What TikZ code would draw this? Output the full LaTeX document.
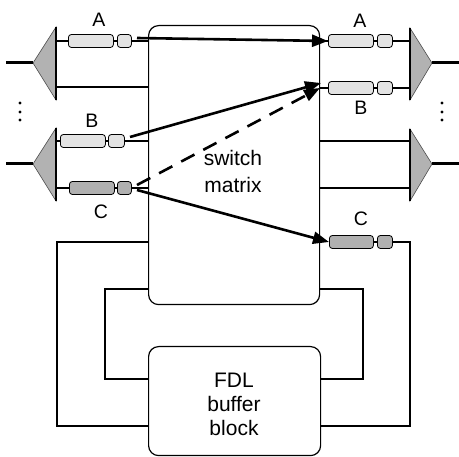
\documentclass[tikz,border=0pt]{standalone}
\usepackage{fontspec}
\setmainfont{Liberation Sans}
\usetikzlibrary{arrows.meta}
\begin{document}
\begin{tikzpicture}[x=1pt,y=-1pt,
  wire/.style={line width=1.2pt},
  bigline/.style={line width=3pt},
  pkt/.style={draw, line width=0.8pt, rounded corners=3pt, minimum height=13pt, inner sep=0pt, anchor=west},
  lightpkt/.style={pkt, fill=gray!22},
  darkpkt/.style={pkt, fill=gray!62},
  demux/.style={fill=gray!60, draw=gray!60!black, line width=0.6pt},
  blockbox/.style={draw, line width=1.2pt, rounded corners=10pt, inner sep=0pt, anchor=north west},
  arr/.style={line width=2.6pt, -{Triangle[length=16pt,width=12pt]}},
  lbl/.style={font=\fontsize{19.5}{22}\selectfont, inner sep=0pt},
  bigtext/.style={font=\fontsize{21}{27}\selectfont, align=center, inner sep=0pt}
]
\useasboundingbox (0,0) rectangle (459,457);

% blocks
\node[blockbox, minimum width=171pt, minimum height=279pt] (sw) at (148,25) {};
\node[blockbox, minimum width=172pt, minimum height=109pt] (fdl) at (148,346) {};
\node[bigtext] (swt) at (233,171) {switch\\matrix};
\node[bigtext, font=\fontsize{21}{24}\selectfont] (fdlt) at (234,404) {FDL\\buffer\\block};

% left demultiplexers
\coordinate (t1a) at (33,63);
\coordinate (t2a) at (33,164);
\coordinate (in1) at (6,63);
\coordinate (in2) at (6,164);
\draw[demux] (56,27) -- (t1a) -- (56,100) -- cycle;
\draw[demux] (56,128) -- (t2a) -- (56,201) -- cycle;
\draw[wire] (56,27) -- (56,100);
\draw[wire] (56,128) -- (56,201);
\draw[bigline] (in1) -- (t1a);
\draw[bigline] (in2) -- (t2a);

% right multiplexers
\coordinate (t3a) at (432,63);
\coordinate (t4a) at (432,164);
\coordinate (out1) at (459,63);
\coordinate (out2) at (459,164);
\draw[demux] (410,28) -- (t3a) -- (410,100) -- cycle;
\draw[demux] (410,129) -- (t4a) -- (410,201) -- cycle;
\draw[wire] (410,28) -- (410,100);
\draw[wire] (410,129) -- (410,201);
\draw[bigline] (t3a) -- (out1);
\draw[bigline] (t4a) -- (out2);

% left packets
\node[lightpkt, minimum width=45pt] (pA1) at (68,41) {};
\node[lightpkt, minimum width=14pt] (pA2) at (117,41) {};
\node[lightpkt, minimum width=45pt] (pB1) at (60,141) {};
\node[lightpkt, minimum width=16pt] (pB2) at (108,141) {};
\node[darkpkt, minimum width=45pt] (pC1) at (69,188) {};
\node[darkpkt, minimum width=14pt] (pC2) at (117,188) {};

% right packets
\node[lightpkt, minimum width=45pt] (qA1) at (328,41) {};
\node[lightpkt, minimum width=15pt] (qA2) at (377,41) {};
\node[lightpkt, minimum width=45pt] (qB1) at (328,88) {};
\node[lightpkt, minimum width=15pt] (qB2) at (377,88) {};
\node[darkpkt, minimum width=44pt] (qC1) at (329,242) {};
\node[darkpkt, minimum width=15pt] (qC2) at (377,242) {};

% left wires
\draw[wire] (56,41) -- (pA1.west);
\draw[wire] (pA1.east) -- (pA2.west);
\draw[wire] (pA2.east) -- (pA2.east -| sw.west);
\draw[wire] (56,87) -- (148,87);
\draw[wire] (56,141) -- (pB1.west);
\draw[wire] (pB1.east) -- (pB2.west);
\draw[wire] (pB2.east) -- (pB2.east -| sw.west);
\draw[wire] (56,188) -- (pC1.west);
\draw[wire] (pC1.east) -- (pC2.west);
\draw[wire] (pC2.east) -- (pC2.east -| sw.west);

% right wires
\draw[wire] (qA1.west -| sw.east) -- (qA1.west);
\draw[wire] (qA1.east) -- (qA2.west);
\draw[wire] (qA2.east) -- (410,41);
\draw[wire] (qB1.west -| sw.east) -- (qB1.west);
\draw[wire] (qB1.east) -- (qB2.west);
\draw[wire] (qB2.east) -- (410,88);
\draw[wire] (sw.east |- 0,141) -- (410,141);
\draw[wire] (sw.east |- 0,188) -- (410,188);
\draw[wire] (qC1.east) -- (qC2.west);

% feedback loops
\draw[wire] (qC2.east) -- (410,242) |- (fdl.east |- 0,426);
\draw[wire] (sw.west |- 0,242) -| (57,426) -- (fdl.west |- 0,426);
\draw[wire] (sw.west |- 0,289) -| (105,379) -- (fdl.west |- 0,379);
\draw[wire] (sw.east |- 0,289) -| (363,379) -- (fdl.east |- 0,379);

% dots
\fill (20,103) circle (1.6pt);
\fill (20,112) circle (1.6pt);
\fill (20,120) circle (1.6pt);
\fill (442,103) circle (1.6pt);
\fill (442,112) circle (1.6pt);
\fill (442,120) circle (1.6pt);

% labels
\node[lbl] (lA) at (99,20) {A};
\node[lbl] (lB) at (92,121) {B};
\node[lbl] (lC) at (101,212) {C};
\node[lbl] (rA) at (360,21) {A};
\node[lbl] (rB) at (361,108) {B};
\node[lbl] (rC) at (361,219) {C};

% switching arrows
\coordinate (sA) at (137,38);
\coordinate (sB) at (130,137);
\coordinate (sD) at (137,185);
\coordinate (sC) at (137,190);
\coordinate (eB) at (321,83);
\coordinate (eD) at (320,88);
\draw[arr] (sA) -- (qA1.west);
\draw[arr] (sB) -- (eB);
\draw[arr, dash pattern=on 15pt off 10pt] (sD) -- (eD);
\draw[arr] (sC) -- (qC1.west);
\end{tikzpicture}
\end{document}
